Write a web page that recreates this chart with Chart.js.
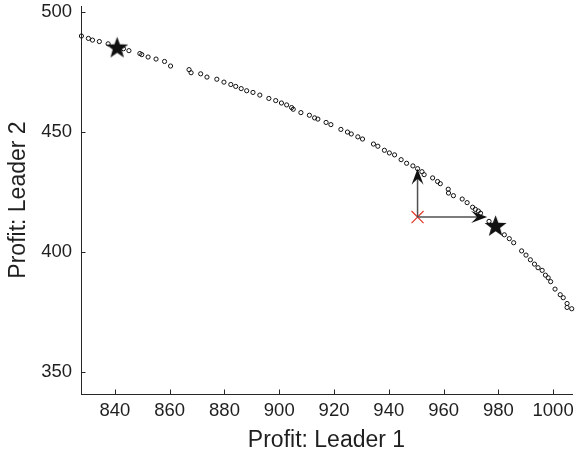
<!DOCTYPE html>
<html>
<head>
<meta charset="utf-8">
<title>Profit frontier</title>
<script src="https://cdn.jsdelivr.net/npm/chart.js@4.4.1/dist/chart.umd.min.js"></script>
<style>
  html, body { margin: 0; padding: 0; background: #ffffff; }
  canvas { display: block; }
</style>
</head>
<body>
<canvas id="chart" width="581" height="457"></canvas>
<script>
// Frontier of attainable profit pairs (Leader 1, Leader 2)
const frontierL1 = [
  827.75, 830.3, 831.8, 834.3, 837.5, 843.1, 845.1, 849.1, 849.8, 852.1,
  855.0, 858.1, 860.3, 867.05, 867.8, 871.3, 873.6, 877.2, 879.8, 882.3,
  884.1, 886.1, 888.1, 890.4, 892.9, 896.2, 898.7, 900.8, 902.7, 904.5,
  905.1, 907.9, 911.0, 912.9, 914.1, 917.1, 918.85, 922.5, 924.9, 926.3,
  928.7, 930.4, 934.4, 936.0, 938.4, 940.2, 942.1, 944.5, 946.5, 948.8,
  950.5, 952.1, 952.9, 956.0, 957.8, 958.8, 961.7, 961.8, 963.6, 966.8,
  968.6, 970.6, 971.6, 972.7, 973.5, 976.6, 982.2, 984.0, 985.6, 988.5,
  990.1, 991.7, 993.2, 994.5, 996.0, 997.2, 998.2, 999.1, 1000.7, 1002.6,
  1003.7, 1005.1, 1005.1, 1006.8
];
const frontierL2 = [
  490.0, 489.0, 488.3, 487.7, 486.75, 484.7, 483.9, 482.7, 482.25, 481.25,
  480.4, 479.4, 477.5, 476.0, 474.7, 474.25, 472.9, 472.0, 470.8, 469.8,
  469.0, 468.1, 467.2, 466.5, 465.4, 464.0, 463.1, 462.1, 461.3, 460.2,
  459.5, 458.1, 457.0, 455.9, 455.4, 454.0, 453.1, 451.1, 450.0, 449.2,
  448.0, 447.1, 445.0, 444.1, 442.4, 441.3, 440.5, 438.5, 437.0, 435.9,
  434.75, 433.5, 432.25, 430.9, 429.4, 428.5, 426.2, 424.6, 423.5, 422.1,
  420.6, 418.7, 417.8, 417.1, 416.2, 412.8, 407.2, 405.6, 403.9, 400.5,
  398.75, 396.8, 395.0, 393.5, 392.4, 390.4, 389.3, 387.7, 384.6, 382.25,
  381.0, 378.6, 376.95, 376.4
];

// Highlighted outcomes (stars)
const starL1 = [840.8, 979.0];
const starL2 = [485.4, 411.1];

// Disagreement point (red cross)
const startL1 = [950.5];
const startL2 = [414.6];

// Arrows from the disagreement point to the frontier
const arrowFromL1 = [950.5, 950.5];
const arrowFromL2 = [414.6, 414.6];
const arrowToL1 = [950.5, 975.9];
const arrowToL2 = [434.75, 414.6];

// Axis ranges and tick labels
const xRange = [827.6, 1006.9];
const yRange = [340.9, 502.5];
const xTicks = [840, 860, 880, 900, 920, 940, 960, 980, 1000];
const yTicks = [350, 400, 450, 500];

const xTitle = 'Profit: Leader 1';
const yTitle = 'Profit: Leader 2';

const toPoints = (xs, ys) => xs.map((x, i) => ({ x: x, y: ys[i] }));

// Filled five-pointed star marker
function makeStar(outerR, innerR, color) {
  const size = Math.ceil(outerR * 2 + 2);
  const c = document.createElement('canvas');
  c.width = size;
  c.height = size;
  const g = c.getContext('2d');
  const cx = size / 2, cy = size / 2 + outerR * 0.1;
  g.beginPath();
  for (let k = 0; k < 10; k++) {
    const r = k % 2 === 0 ? outerR : innerR;
    const a = -Math.PI / 2 + k * Math.PI / 5;
    const px = cx + r * Math.cos(a);
    const py = cy + r * Math.sin(a);
    if (k === 0) g.moveTo(px, py); else g.lineTo(px, py);
  }
  g.closePath();
  g.fillStyle = color;
  g.fill();
  return c;
}
const starMarker = makeStar(11.5, 4.7, '#111111');

// Inward tick marks on the left and bottom axes
const inwardTicks = {
  id: 'inwardTicks',
  afterDatasetsDraw(chart) {
    const { ctx, chartArea, scales } = chart;
    const len = 4.5;
    ctx.save();
    ctx.strokeStyle = '#262626';
    ctx.lineWidth = 1;
    ctx.beginPath();
    xTicks.forEach(v => {
      const px = Math.round(scales.x.getPixelForValue(v)) + 0.5;
      ctx.moveTo(px, chartArea.bottom);
      ctx.lineTo(px, chartArea.bottom - len);
    });
    yTicks.forEach(v => {
      const py = Math.round(scales.y.getPixelForValue(v)) + 0.5;
      ctx.moveTo(chartArea.left, py);
      ctx.lineTo(chartArea.left + len, py);
    });
    ctx.stroke();
    ctx.restore();
  }
};

// Arrows with concave filled heads
const arrows = {
  id: 'arrows',
  afterDatasetsDraw(chart) {
    const { ctx, scales } = chart;
    const headLen = 16, headHalf = 6, notch = 10.5;
    ctx.save();
    arrowFromL1.forEach((x0v, i) => {
      const x0 = scales.x.getPixelForValue(x0v);
      const y0 = scales.y.getPixelForValue(arrowFromL2[i]);
      const x1 = scales.x.getPixelForValue(arrowToL1[i]);
      const y1 = scales.y.getPixelForValue(arrowToL2[i]);
      const ang = Math.atan2(y1 - y0, x1 - x0);
      const dist = Math.hypot(x1 - x0, y1 - y0);
      ctx.save();
      ctx.translate(x0, y0);
      ctx.rotate(ang);
      // shaft
      ctx.strokeStyle = '#505050';
      ctx.lineWidth = 1.5;
      ctx.beginPath();
      ctx.moveTo(0, 0);
      ctx.lineTo(dist - notch, 0);
      ctx.stroke();
      // head
      ctx.fillStyle = '#111111';
      ctx.beginPath();
      ctx.moveTo(dist, 0);
      ctx.lineTo(dist - headLen, -headHalf);
      ctx.quadraticCurveTo(dist - notch, -1, dist - notch, 0);
      ctx.quadraticCurveTo(dist - notch, 1, dist - headLen, headHalf);
      ctx.closePath();
      ctx.fill();
      ctx.restore();
    });
    ctx.restore();
  }
};

const fontFamily = '"Liberation Sans", Arial, sans-serif';
const xTickFont = { family: fontFamily, size: 18.5 };
// compact line height keeps the top label from pushing the plot area down
const yTickFont = { family: fontFamily, size: 18.5, lineHeight: 0.55 };
const titleFont = { family: fontFamily, size: 23 };
const textColor = '#1f1f1f';

new Chart(document.getElementById('chart'), {
  type: 'scatter',
  data: {
    datasets: [
      {
        label: 'Frontier',
        data: toPoints(frontierL1, frontierL2),
        pointStyle: 'circle',
        pointRadius: 2.1,
        pointBorderWidth: 1,
        pointBorderColor: '#111111',
        pointBackgroundColor: 'rgba(255,255,255,0)',
        showLine: false,
        clip: false,
        order: 3
      },
      {
        label: 'Outcomes',
        data: toPoints(starL1, starL2),
        pointStyle: starMarker,
        pointRadius: 11,
        showLine: false,
        clip: false,
        order: 1
      },
      {
        label: 'Start',
        data: toPoints(startL1, startL2),
        pointStyle: 'crossRot',
        pointRadius: 8.5,
        pointBorderWidth: 1.2,
        pointBorderColor: '#e2372b',
        pointBackgroundColor: '#e2372b',
        showLine: false,
        order: 2
      }
    ]
  },
  options: {
    responsive: false,
    animation: false,
    events: [],
    layout: { autoPadding: false, padding: { top: 6, right: 9, left: 0, bottom: 0 } },
    plugins: {
      legend: { display: false },
      tooltip: { enabled: false }
    },
    scales: {
      x: {
        type: 'linear',
        position: 'bottom',
        min: xRange[0],
        max: xRange[1],
        afterBuildTicks: scale => { scale.ticks = xTicks.map(v => ({ value: v })); },
        afterFit: scale => {
          scale.height = 63;
          scale.paddingLeft = 0;
          scale.paddingRight = 0;
        },
        grid: { display: false, drawTicks: false },
        border: { display: true, color: '#262626', width: 1 },
        ticks: {
          color: textColor,
          font: xTickFont,
          padding: 6,
          maxRotation: 0,
          autoSkip: false,
          callback: v => String(v)
        },
        title: {
          display: true,
          text: xTitle,
          color: textColor,
          font: titleFont,
          padding: { top: 0, bottom: 3 }
        }
      },
      y: {
        type: 'linear',
        position: 'left',
        min: yRange[0],
        max: yRange[1],
        afterBuildTicks: scale => { scale.ticks = yTicks.map(v => ({ value: v })); },
        afterFit: scale => {
          scale.width = 81;
          scale.paddingTop = 0;
          scale.paddingBottom = 0;
        },
        grid: { display: false, drawTicks: false },
        border: { display: true, color: '#262626', width: 1 },
        ticks: {
          color: textColor,
          font: yTickFont,
          padding: 9,
          autoSkip: false,
          callback: v => String(v)
        },
        title: {
          display: true,
          text: yTitle,
          color: textColor,
          font: titleFont,
          padding: { top: 5, bottom: 0 }
        }
      }
    }
  },
  plugins: [inwardTicks, arrows]
});
</script>
</body>
</html>
